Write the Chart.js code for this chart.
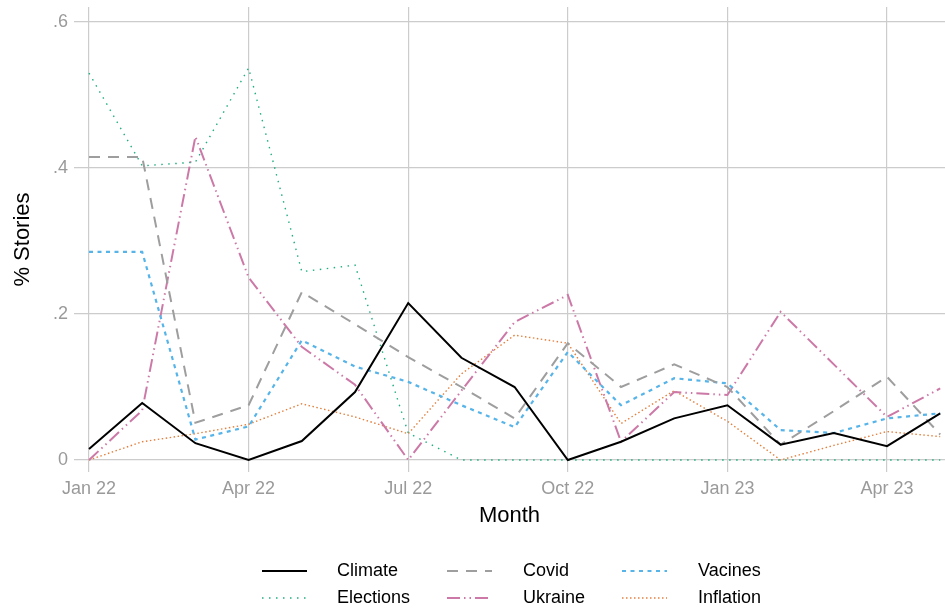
<!DOCTYPE html>
<html>
<head>
<meta charset="utf-8">
<script src="https://cdn.jsdelivr.net/npm/chart.js@4/dist/chart.umd.min.js"></script>
<style>
  html, body { margin: 0; padding: 0; background: #ffffff; }
  #wrap { width: 945px; height: 616px; }
</style>
</head>
<body>
<div id="wrap"><canvas id="c" width="945" height="616"></canvas></div>
<script>
const months = ['Jan 22','Feb 22','Mar 22','Apr 22','May 22','Jun 22','Jul 22','Aug 22','Sep 22','Oct 22','Nov 22','Dec 22','Jan 23','Feb 23','Mar 23','Apr 23','May 23'];
const xTickLabels = ['Jan 22','Apr 22','Jul 22','Oct 22','Jan 23','Apr 23'];
const yTickValues = [0, 0.2, 0.4, 0.6];
const yTickLabels = ['0', '.2', '.4', '.6'];

const seriesNames = ['Climate','Covid','Vacines','Elections','Ukraine','Inflation'];
const climate   = [0.015, 0.078, 0.023, 0, 0.026, 0.093, 0.215, 0.140, 0.100, 0, 0.025, 0.057, 0.075, 0.021, 0.037, 0.019, 0.064];
const covid     = [0.415, 0.415, 0.051, 0.075, 0.230, 0.186, 0.141, 0.100, 0.057, 0.160, 0.100, 0.131, 0.100, 0.021, 0.067, 0.114, 0.035];
const vacines   = [0.285, 0.285, 0.028, 0.046, 0.164, 0.128, 0.107, 0.075, 0.045, 0.148, 0.075, 0.112, 0.105, 0.041, 0.037, 0.057, 0.064];
const elections = [0.530, 0.403, 0.408, 0.537, 0.258, 0.267, 0.037, 0, 0, 0, 0, 0, 0, 0, 0, 0, 0];
const ukraine   = [0, 0.068, 0.443, 0.250, 0.155, 0.103, 0, 0.095, 0.189, 0.226, 0.025, 0.093, 0.089, 0.203, 0.131, 0.059, 0.098];
const inflation = [0, 0.025, 0.036, 0.049, 0.077, 0.059, 0.036, 0.118, 0.171, 0.160, 0.050, 0.095, 0.053, 0, 0.020, 0.039, 0.032];

const seriesValues = [climate, covid, vacines, elections, ukraine, inflation];
const styles = [
  { color: '#000000', width: 2,   dash: [] },
  { color: '#9e9e9e', width: 2,   dash: [11, 8] },
  { color: '#56B4E9', width: 2.2, dash: [4, 4.5] },
  { color: '#1fae82', width: 1.4, dash: [1.5, 5.5] },
  { color: '#CC79A7', width: 2,   dash: [13, 4, 1.5, 4, 1.5, 4] },
  { color: '#E2803F', width: 1.4, dash: [1.5, 2.5] }
];

const datasets = seriesNames.map((name, k) => ({
  label: name,
  data: seriesValues[k].map((v, i) => ({ x: i, y: v })),
  borderColor: styles[k].color,
  borderWidth: styles[k].width,
  borderDash: styles[k].dash,
  borderCapStyle: 'butt',
  borderJoinStyle: 'miter',
  pointRadius: 0,
  pointHoverRadius: 0,
  fill: false,
  tension: 0
}));

const legendPlugin = {
  id: 'gridLegend',
  afterDraw(chart) {
    const ctx = chart.ctx;
    const colLine = [262, 447, 622];
    const colText = [337, 523, 698];
    const rowY = [571, 598];
    ctx.save();
    chart.data.datasets.forEach((ds, k) => {
      const col = k % 3, row = Math.floor(k / 3);
      const y = rowY[row];
      ctx.beginPath();
      ctx.strokeStyle = ds.borderColor;
      ctx.lineWidth = ds.borderWidth;
      ctx.setLineDash(ds.borderDash || []);
      ctx.lineCap = 'butt';
      ctx.moveTo(colLine[col], y);
      ctx.lineTo(colLine[col] + 45, y);
      ctx.stroke();
      ctx.setLineDash([]);
      ctx.fillStyle = '#000000';
      ctx.font = '18px "Liberation Sans", Arial, sans-serif';
      ctx.textBaseline = 'middle';
      ctx.textAlign = 'left';
      ctx.fillText(ds.label, colText[col], y);
    });
    ctx.restore();
  }
};

new Chart(document.getElementById('c'), {
  type: 'line',
  data: { datasets },
  plugins: [legendPlugin],
  options: {
    responsive: false,
    animation: false,
    devicePixelRatio: 1,
    layout: { padding: { top: 7, right: 0, bottom: 84, left: 0 } },
    plugins: { legend: { display: false }, tooltip: { enabled: false } },
    scales: {
      x: {
        type: 'linear',
        min: -0.282,
        max: 16.09,
        border: { display: false },
        grid: { color: '#cccccc', lineWidth: 1.2, drawTicks: false },
        afterBuildTicks(scale) {
          scale.ticks = xTickLabels.map(l => ({ value: months.indexOf(l) }));
        },
        afterFit(scale) {
          scale.height = 60;
          scale.paddingLeft = 0; scale.paddingRight = 0;
        },
        ticks: {
          autoSkip: false,
          maxRotation: 0,
          padding: 6,
          color: '#9a9a9a',
          font: { family: '"Liberation Sans", Arial, sans-serif', size: 18 },
          callback: (v) => months[v]
        },
        title: {
          display: true,
          text: 'Month',
          color: '#000000',
          font: { family: '"Liberation Sans", Arial, sans-serif', size: 22 },
          padding: { top: 0, bottom: 3 }
        }
      },
      y: {
        type: 'linear',
        min: -0.01644,
        max: 0.62055,
        border: { display: false },
        grid: { color: '#cccccc', lineWidth: 1.2, drawTicks: false },
        afterBuildTicks(scale) {
          scale.ticks = yTickValues.map(v => ({ value: v }));
        },
        afterFit(scale) {
          scale.width = 74;
          scale.paddingTop = 0; scale.paddingBottom = 0;
        },
        ticks: {
          padding: 6,
          color: '#9a9a9a',
          font: { family: '"Liberation Sans", Arial, sans-serif', size: 18 },
          callback: (v) => { const i = yTickValues.indexOf(v); return i >= 0 ? yTickLabels[i] : ''; }
        },
        title: {
          display: true,
          text: '% Stories',
          color: '#000000',
          font: { family: '"Liberation Sans", Arial, sans-serif', size: 22 },
          padding: { top: 10, bottom: 0 }
        }
      }
    }
  }
});
</script>
</body>
</html>
